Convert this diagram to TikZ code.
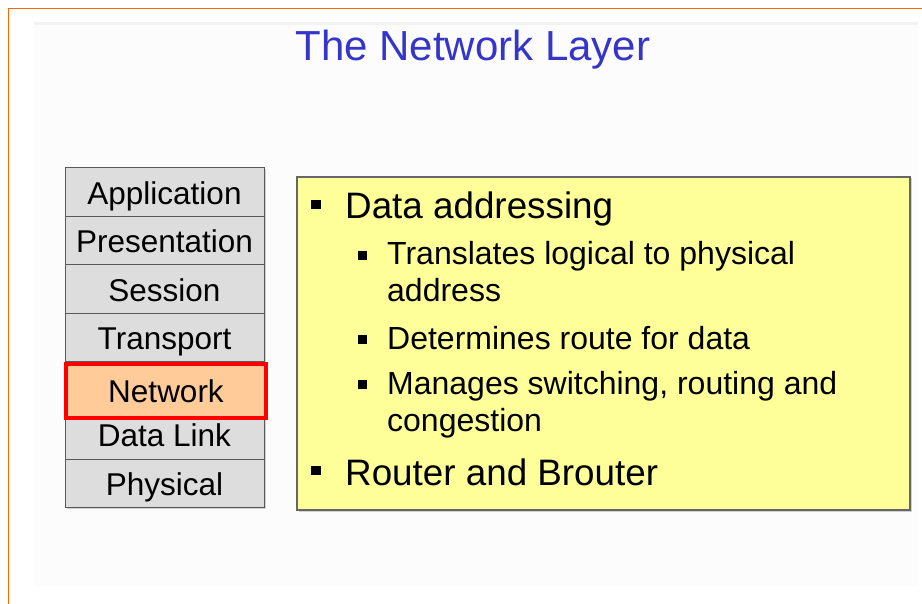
\documentclass[tikz,border=0pt]{standalone}
\usepackage{fontspec}
\setmainfont{Liberation Sans}
\usetikzlibrary{shadows}

\definecolor{titleblue}{HTML}{3535CC}
\definecolor{layergray}{HTML}{DDDDDD}
\definecolor{notesyellow}{HTML}{FFFF99}
\definecolor{netpeach}{HTML}{FFCC99}
\definecolor{frameorange}{HTML}{FF6600}

\newcommand{\mainbullet}{\makebox[34pt][l]{\rule[10pt]{10pt}{9pt}}}
\newcommand{\subbullet}{\makebox[29pt][l]{\rule[5.5pt]{9pt}{8.5pt}}}

\begin{document}
\begin{tikzpicture}[x=1pt, y=-1pt,
	osilayer/.style={draw=black!65, fill=layergray, line width=1pt, minimum width=199pt, minimum height=48.5pt, inner sep=0pt, text height=23.6pt, text depth=0pt, font=\fontsize{31.5}{31.5}\selectfont, drop shadow={shadow xshift=1.5pt, shadow yshift=-1.5pt, opacity=0.35}},
	netlayer/.style={osilayer, draw=red, fill=netpeach, line width=4pt, minimum width=200pt, minimum height=54pt, drop shadow={opacity=0}},
	notesbox/.style={draw=black!60, fill=notesyellow, line width=1.2pt, minimum width=613pt, minimum height=333pt, drop shadow={shadow xshift=1.5pt, shadow yshift=-1.5pt, opacity=0.35}},
	mainitem/.style={anchor=base west, inner sep=0pt, align=left, font=\fontsize{36.8}{42}\selectfont},
	subitem/.style={anchor=base west, inner sep=0pt, align=left, font=\fontsize{32}{37}\selectfont}]

	\useasboundingbox (0,0) rectangle (922,604);
	\fill[black!1] (34,22) rectangle (918,586);
	\fill[black!5] (34,22) rectangle (918,25);
	\draw[frameorange, line width=1.3pt] (8.5,604) -- (8.5,8.5) -- (922,8.5);

	\node[anchor=base, inner sep=0pt, text=titleblue, font=\fontsize{42}{42}\selectfont] (title) at (473,61) {The Network Layer};

	% OSI stack
	\node[osilayer] (app) at (164.5,192.25) {Application};
	\node[osilayer] (pres) at (164.5,240.75) {Presentation};
	\node[osilayer] (sess) at (164.5,289.25) {Session};
	\node[osilayer] (trans) at (164.5,337.75) {Transport};
	\node[osilayer] (link) at (164.5,434.75) {Data Link};
	\node[osilayer] (phys) at (164.5,483.25) {Physical};
	\node[netlayer] (net) at (166,391) {Network};

	% notes (base of a two-line item is its last line)
	\node[notesbox] (notes) at (603.5,343.5) {};
	\node[mainitem] (addr) at (311,219) {\mainbullet Data addressing};
	\node[subitem] (xlate) at (358,302) {\subbullet Translates logical to physical\\\hspace*{29pt}address};
	\node[subitem] (route) at (358,349) {\subbullet Determines route for data};
	\node[subitem] (manage) at (358,431) {\subbullet Manages switching, routing and\\\hspace*{29pt}congestion};
	\node[mainitem] (router) at (311,485) {\mainbullet Router and Brouter};
\end{tikzpicture}
\end{document}
